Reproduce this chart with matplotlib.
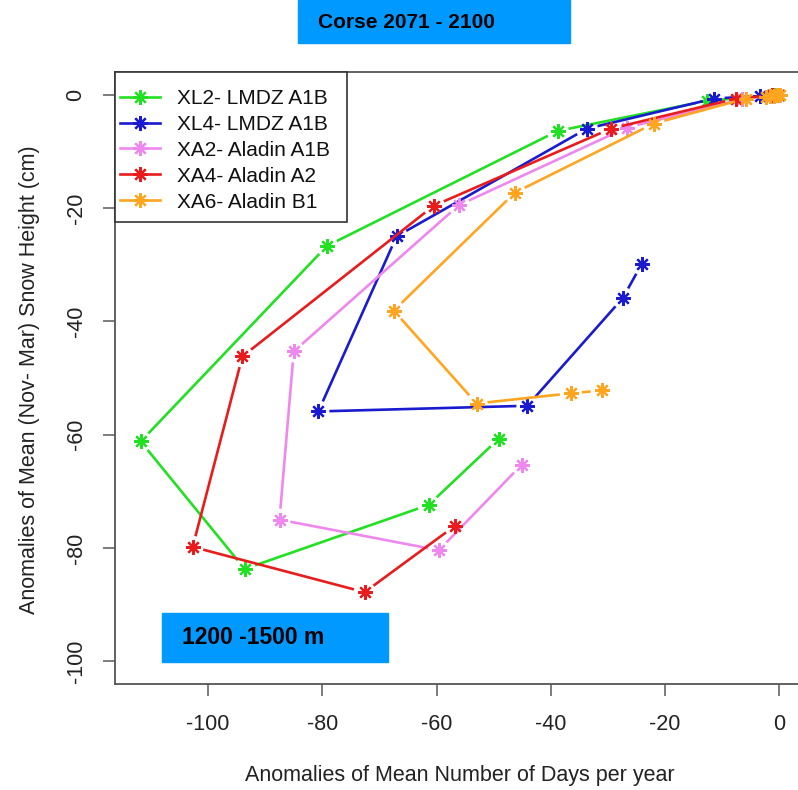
import matplotlib
matplotlib.use("Agg")
import matplotlib.pyplot as plt
from matplotlib.lines import Line2D
from matplotlib.patches import Rectangle
import numpy as np

plt.rcParams['font.family'] = ['Liberation Sans', 'DejaVu Sans']

# séries (jours, hauteur de neige)
series_names = ["XL2- LMDZ A1B", "XL4- LMDZ A1B", "XA2- Aladin A1B",
                "XA4- Aladin A2", "XA6- Aladin B1"]
series_colors = ["#22e022", "#1a1ad0", "#ee88ee", "#e81c1c", "#ffa51f"]

xl2_days = [0.0, -1.0, -12.7, -38.8, -79.2, -111.8, -93.6, -61.4, -49.1]
xl2_snow = [0.0, -0.1, -1.1, -6.4, -26.7, -61.2, -83.7, -72.4, -60.7]

xl4_days = [0.0, -1.2, -3.3, -11.5, -33.7, -67.0, -80.7, -44.1, -27.4, -24.1]
xl4_snow = [0.0, -0.1, -0.2, -0.7, -6.0, -25.0, -55.9, -54.9, -35.9, -29.9]

xa2_days = [0.0, -1.5, -6.5, -26.7, -56.1, -85.0, -87.5, -59.6, -45.1]
xa2_snow = [0.0, -0.2, -0.8, -5.8, -19.5, -45.3, -75.0, -80.4, -65.3]

xa4_days = [0.0, -1.3, -7.6, -29.5, -60.5, -94.0, -102.7, -72.6, -56.8]
xa4_snow = [0.0, -0.1, -0.7, -6.0, -19.6, -46.2, -79.8, -87.8, -76.1]

xa6_days = [0.2, -0.4, -1.0, -1.7, -2.4, -5.9, -22.0, -46.3, -67.5, -53.0, -36.5, -31.1]
xa6_snow = [0.0, -0.1, -0.2, -0.3, -0.4, -0.7, -5.1, -17.3, -38.1, -54.5, -52.7, -52.2]

all_days = [xl2_days, xl4_days, xa2_days, xa4_days, xa6_days]
all_snow = [xl2_snow, xl4_snow, xa2_snow, xa4_snow, xa6_snow]

x_ticks = [-100, -80, -60, -40, -20, 0]
y_ticks = [-100, -80, -60, -40, -20, 0]

fig = plt.figure(figsize=(7.98, 7.90), dpi=100)
ax = fig.add_axes([115 / 798, 1 - 684 / 790, 690 / 798, 612 / 790])
ax.set_xlim(-116.3, 4.5)
ax.set_ylim(-104, 4)

asterisk = (8, 2, 0)
gap = 11.0  # pixels laissés vides autour des points (type="b" de R)

def draw_series(xs, ys, color):
    pts = ax.transData.transform(np.column_stack([xs, ys]))
    inv = ax.transData.inverted()
    for i in range(len(pts) - 1):
        p0, p1 = pts[i], pts[i + 1]
        d = p1 - p0
        L = np.hypot(d[0], d[1])
        if L <= 2 * gap:
            continue
        u = d / L
        seg = inv.transform(np.array([p0 + gap * u, p1 - gap * u]))
        ax.plot(seg[:, 0], seg[:, 1], color=color, lw=1.9, solid_capstyle='butt')
    ax.plot(xs, ys, linestyle='none', marker=asterisk, ms=10.5, mew=1.6,
            color=color)

for xs, ys, c in zip(all_days, all_snow, series_colors):
    draw_series(xs, ys, c)

ax.set_xticks(x_ticks)
ax.set_yticks(y_ticks)
ax.set_xticklabels([str(v) for v in x_ticks])
ax.set_yticklabels([str(v) for v in y_ticks])
ax.tick_params(direction='out', length=8.5, width=1.2, color='#666666',
               labelsize=15.5, labelcolor='#222222')
ax.tick_params(axis='x', pad=13)
ax.tick_params(axis='y', pad=12)
plt.setp(ax.get_yticklabels(), rotation=90, va='center')
for s in ax.spines.values():
    s.set_color('#555555')
    s.set_linewidth(1.3)

# cadre de la légende dessiné à part (marges comme dans R)
frame = Rectangle((115 / 798, 1 - 222 / 790), 232 / 798, 150 / 790,
                  transform=fig.transFigure, facecolor='white',
                  edgecolor='#333333', lw=1.2, zorder=4.5, clip_on=False)
ax.add_patch(frame)

handles = [Line2D([0], [0], color=c, lw=1.9, marker=asterisk, ms=10.5, mew=1.6)
           for c in series_colors]
leg = ax.legend(handles, series_names, loc='upper left',
                bbox_to_anchor=(120 / 798, 1 - 89 / 790),
                bbox_transform=fig.transFigure, frameon=False,
                borderaxespad=0, borderpad=0, fontsize=15,
                handlelength=1.9, handletextpad=0.85, labelspacing=0.33)
for t in leg.get_texts():
    t.set_color('#111111')

fig.text(460 / 798, 1 - 775 / 790, "Anomalies of Mean Number of Days per year",
         ha='center', va='center', fontsize=15.5, color='#222222')
fig.text(30 / 798, 1 - 380 / 790, "Anomalies of Mean (Nov- Mar) Snow Height (cm)",
         ha='center', va='center', rotation=90, fontsize=15.5, color='#222222')

# encadrés bleus
fig.patches.append(Rectangle((298 / 798, 1 - 43 / 790), 272 / 798, 43 / 790,
                             transform=fig.transFigure, color='#0099ff', zorder=0))
fig.text(318 / 798, 1 - 22 / 790, "Corse 2071 - 2100", ha='left', va='center',
         fontsize=15, fontweight='bold', color='black')
fig.patches.append(Rectangle((162 / 798, 1 - 662 / 790), 226 / 798, 49 / 790,
                             transform=fig.transFigure, color='#0099ff', zorder=5))
fig.text(182 / 798, 1 - 638 / 790, "1200 -1500 m", ha='left', va='center',
         fontsize=16.5, fontweight='bold', color='black', zorder=6)

fig.savefig("out.png", dpi=100)
